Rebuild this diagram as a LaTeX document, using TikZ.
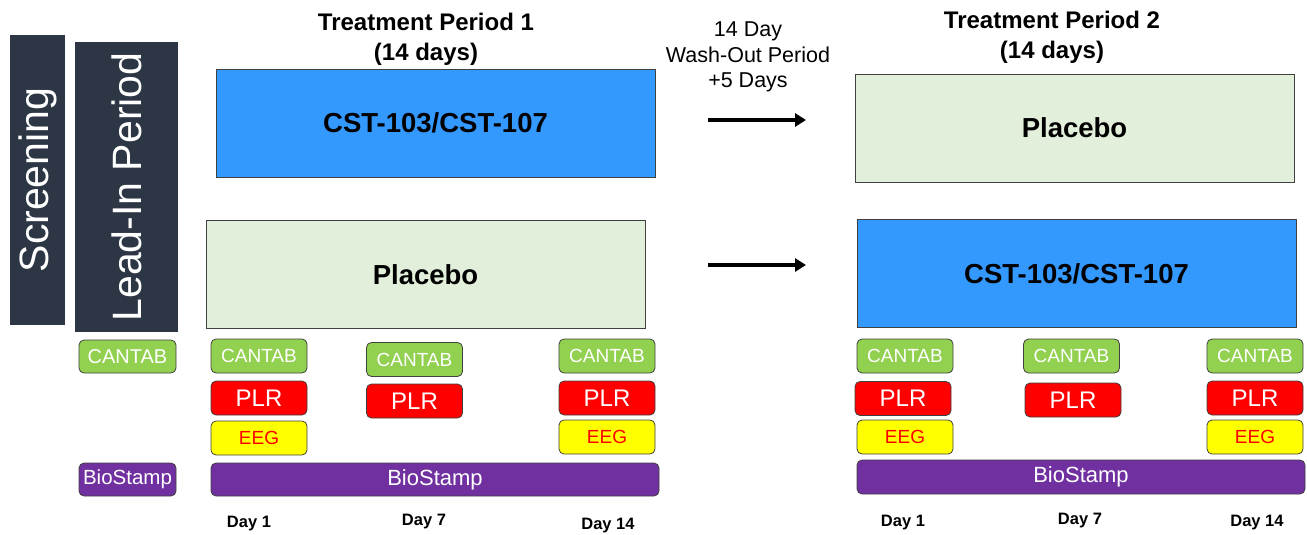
\documentclass[tikz,border=0pt]{standalone}
\usepackage{fontspec}
\setmainfont{Liberation Sans}
\usetikzlibrary{arrows.meta}
\definecolor{navy}{HTML}{2C3645}
\definecolor{drugblue}{HTML}{3399FF}
\definecolor{placgreen}{HTML}{E2EFDA}
\definecolor{cantabgreen}{HTML}{92D050}
\definecolor{plrred}{HTML}{FF0000}
\definecolor{eegyellow}{HTML}{FFFF00}
\definecolor{biopurple}{HTML}{7030A0}
\definecolor{edge}{HTML}{404040}
\begin{document}
\begin{tikzpicture}[x=1pt,y=-1pt,
  phase/.style={fill=navy, inner sep=0pt, text=white,
    font=\fontsize{41}{41}\selectfont},
  armbox/.style={draw=edge, line width=0.8pt, minimum width=439pt,
    minimum height=108pt, inner sep=0pt, font=\bfseries\fontsize{27.5}{27.5}\selectfont},
  drug/.style={armbox, fill=drugblue},
  placebo/.style={armbox, fill=placgreen},
  task/.style={draw=edge, line width=0.8pt, rounded corners=5pt,
    minimum width=96pt, minimum height=34pt, inner sep=0pt},
  cantab/.style={task, fill=cantabgreen, text=white, font=\fontsize{19}{19}\selectfont},
  plr/.style={task, fill=plrred, text=white, font=\fontsize{24}{24}\selectfont},
  eeg/.style={task, fill=eegyellow, text=plrred, font=\fontsize{19}{19}\selectfont},
  biostamp/.style={task, fill=biopurple, text=white, font=\fontsize{22}{22}\selectfont},
  title/.style={align=center, font=\bfseries\fontsize{24}{30}\selectfont},
  daylabel/.style={font=\bfseries\fontsize{16.5}{16.5}\selectfont},
  transition/.style={line width=4.5pt, -{Triangle[length=11pt,width=13pt]}}
]
\useasboundingbox (0,0) rectangle (1307,535);

% study phases before randomisation
\node[phase, minimum width=55pt, minimum height=290pt] (scr) at (37.5,180) {};
\node[rotate=90, text=white, font=\fontsize{41}{41}\selectfont] (scrtext) at (scr.center) {Screening};
\node[phase, minimum width=103pt, minimum height=290pt] (lead) at (126.5,187) {};
\node[rotate=90, text=white, font=\fontsize{41}{41}\selectfont] (leadtext) at (lead.center) {Lead-In Period};

% period headings
\node[title] (t1) at (426,39) {Treatment Period 1\\(14 days)};
\node[title] (t2) at (1052,37) {Treatment Period 2\\(14 days)};
\node[align=center, font=\fontsize{21.5}{25.5}\selectfont] (wash) at (748,57)
  {14 Day\\Wash-Out Period\\+5 Days};

% treatment arms
\node[drug] (b1) at (435.5,123) {CST-103/CST-107};
\node[placebo] (p1) at (425.5,274.5) {Placebo};
\node[placebo] (p2) at (1074.5,128) {Placebo};
\node[drug] (b2) at (1076.5,273.5) {CST-103/CST-107};

% cross-over arrows
\coordinate (a1s) at (708,120);
\coordinate (a1e) at (806,120);
\coordinate (a2s) at (708,265);
\coordinate (a2e) at (806,265);
\draw[transition] (a1s) -- (a1e);
\draw[transition] (a2s) -- (a2e);

% lead-in assessments
\node[cantab, minimum width=97pt, minimum height=33pt, font=\fontsize{20}{20}\selectfont] (lc) at (127.5,356.5) {CANTAB};
\node[biostamp, minimum width=97pt, minimum height=33pt, font=\fontsize{20.5}{20.5}\selectfont] (lb) at (127.5,479.5) {BioStamp};

% period 1 assessments
\node[cantab] (c1a) at (259,356) {CANTAB};
\node[plr] (r1a) at (259,398) {PLR};
\node[eeg] (e1a) at (259,438) {EEG};
\node[cantab] (c1b) at (414.5,359.5) {CANTAB};
\node[plr] (r1b) at (414.5,401) {PLR};
\node[cantab] (c1c) at (607,356) {CANTAB};
\node[plr] (r1c) at (607,398) {PLR};
\node[eeg] (e1c) at (607,437) {EEG};
\node[biostamp, minimum width=448pt, minimum height=33pt] (bs1) at (435,479.5) {BioStamp};

% period 2 assessments
\node[cantab] (c2a) at (905,356) {CANTAB};
\node[plr] (r2a) at (903,398.5) {PLR};
\node[eeg] (e2a) at (905,437) {EEG};
\node[cantab] (c2b) at (1071.5,356) {CANTAB};
\node[plr] (r2b) at (1073,400) {PLR};
\node[cantab] (c2c) at (1255,356) {CANTAB};
\node[plr] (r2c) at (1255,398) {PLR};
\node[eeg] (e2c) at (1255,437) {EEG};
\node[biostamp, minimum width=448pt] (bs2) at (1081,477) {BioStamp};

% visit days
\node[daylabel] (d1a) at (249,524) {Day 1};
\node[daylabel] (d7a) at (424,522) {Day 7};
\node[daylabel] (d14a) at (608,526) {Day 14};
\node[daylabel] (d1b) at (903,523) {Day 1};
\node[daylabel] (d7b) at (1080,521) {Day 7};
\node[daylabel] (d14b) at (1257,523) {Day 14};
\end{tikzpicture}
\end{document}
